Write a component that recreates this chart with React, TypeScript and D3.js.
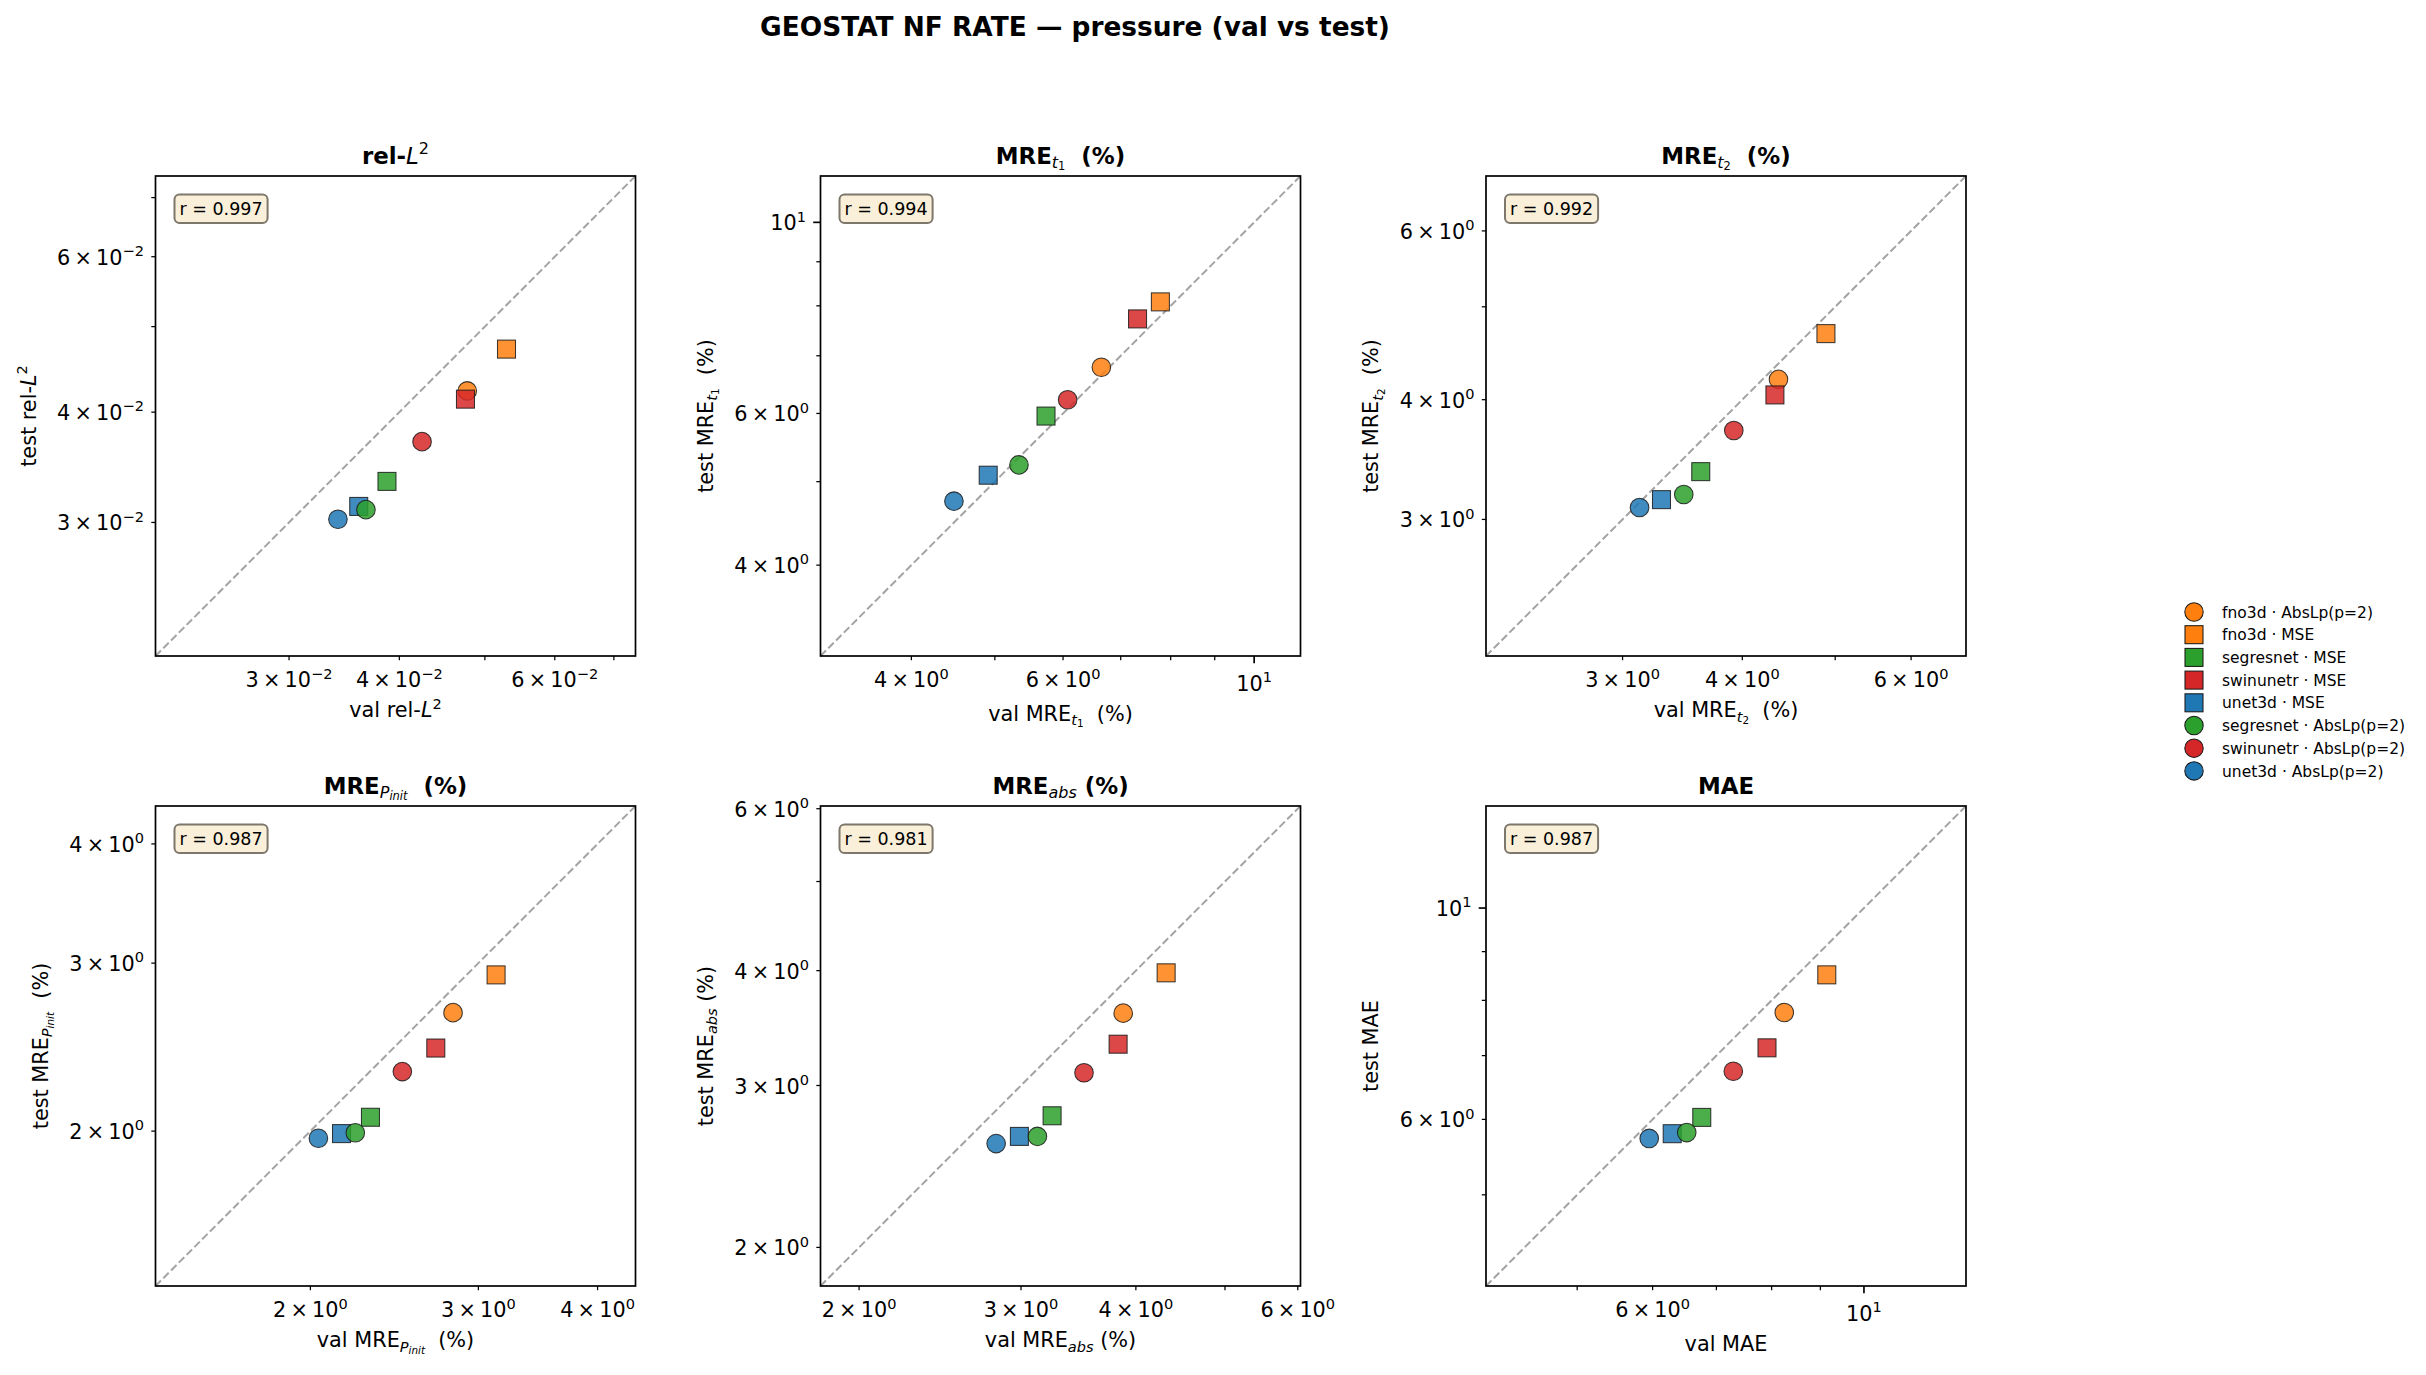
import React, { useEffect, useRef } from "react";
import * as d3 from "d3";

const W = 2426;
const H = 1375;
const FONT = "'DejaVu Sans', sans-serif";

// ---------- data ----------
const modelLabels = [
  "fno3d · AbsLp(p=2)",
  "fno3d · MSE",
  "segresnet · MSE",
  "swinunetr · MSE",
  "unet3d · MSE",
  "segresnet · AbsLp(p=2)",
  "swinunetr · AbsLp(p=2)",
  "unet3d · AbsLp(p=2)",
];
const modelColors = ["#ff7f0e", "#ff7f0e", "#2ca02c", "#d62728", "#1f77b4", "#2ca02c", "#d62728", "#1f77b4"];
const modelShapes = ["circle", "square", "square", "square", "square", "circle", "circle", "circle"];

const relL2Val = [0.04775, 0.0529, 0.03873, 0.04753, 0.03598, 0.03666, 0.04244, 0.03408];
const relL2Test = [0.04228, 0.04715, 0.03339, 0.04138, 0.03128, 0.03102, 0.03704, 0.03025];

const mreT1Val = [6.647, 7.783, 5.733, 7.322, 4.912, 5.333, 6.074, 4.482];
const mreT1Test = [6.788, 8.085, 5.958, 7.725, 5.087, 5.229, 6.223, 4.746];

const mreT2Val = [4.363, 4.89, 3.62, 4.326, 3.294, 3.475, 3.919, 3.125];
const mreT2Test = [4.2, 4.688, 3.365, 4.046, 3.146, 3.185, 3.715, 3.087];

const mrePinitVal = [2.822, 3.131, 2.312, 2.707, 2.156, 2.229, 2.497, 2.039];
const mrePinitTest = [2.662, 2.916, 2.068, 2.444, 1.988, 1.992, 2.309, 1.966];

const mreAbsVal = [3.875, 4.315, 3.243, 3.826, 2.988, 3.126, 3.513, 2.819];
const mreAbsTest = [3.596, 3.978, 2.781, 3.327, 2.641, 2.641, 3.097, 2.594];

const maeVal = [8.248, 9.141, 6.757, 7.911, 6.291, 6.516, 7.292, 5.951];
const maeTest = [7.768, 8.509, 6.029, 7.133, 5.796, 5.812, 6.74, 5.73];

const rValues = ["0.997", "0.994", "0.992", "0.987", "0.981", "0.987"];

type Seg = { t: string; s?: number; dy?: number; i?: boolean; m?: boolean };

const panelNames: Seg[][] = [
  [{ t: "rel-" }, { t: "L", i: true, m: true }, { t: "2", s: 0.7, dy: -0.42, m: true }],
  [{ t: "MRE" }, { t: "t", s: 0.7, dy: 0.2, i: true, m: true }, { t: "1", s: 0.5, dy: 0.3, m: true }, { t: "  (%)" }],
  [{ t: "MRE" }, { t: "t", s: 0.7, dy: 0.2, i: true, m: true }, { t: "2", s: 0.5, dy: 0.3, m: true }, { t: "  (%)" }],
  [{ t: "MRE" }, { t: "P", s: 0.7, dy: 0.2, i: true, m: true }, { t: "init", s: 0.5, dy: 0.3, i: true, m: true }, { t: "  (%)" }],
  [{ t: "MRE" }, { t: "abs", s: 0.7, dy: 0.2, i: true, m: true }, { t: " (%)" }],
  [{ t: "MAE" }],
];

const panelVals = [relL2Val, mreT1Val, mreT2Val, mrePinitVal, mreAbsVal, maeVal];
const panelTests = [relL2Test, mreT1Test, mreT2Test, mrePinitTest, mreAbsTest, maeTest];

// ---------- layout ----------
const axLefts = [155.5, 820.5, 1486];
const axTops = [176, 806];
const S = 480;
const FS_TICK = 20.8;
const FS_LABEL = 20.8;
const FS_TITLE = 22.9;
const MAJ = 7.3;
const MIN = 4.2;
const PAD = 7.3;

function rich(sel: any, segs: Seg[], fs: number, bold: boolean) {
  let cur = 0;
  segs.forEach((seg) => {
    const shift = (seg.dy ?? 0) * fs;
    const ts = sel
      .append("tspan")
      .text(seg.t)
      .attr("font-size", (seg.s ?? 1) * fs)
      .attr("dy", shift - cur)
      .attr("font-weight", bold && !seg.m ? "bold" : "normal")
      .attr("style", "white-space:pre");
    if (seg.i) ts.attr("font-style", "italic");
    cur = shift;
  });
}

function logTicks(lo: number, hi: number) {
  const numdec = Math.log10(hi / lo);
  const res: { v: number; k: number; e: number; major: boolean; labeled: boolean }[] = [];
  for (let e = Math.floor(Math.log10(lo)); e <= Math.ceil(Math.log10(hi)); e++) {
    for (let k = 1; k <= 9; k++) {
      const v = k * Math.pow(10, e);
      if (v < lo || v > hi) continue;
      const major = k === 1;
      const labeled = major || numdec < 0.4 || (numdec <= 1 && [2, 3, 4, 6].includes(k));
      res.push({ v, k, e, major, labeled });
    }
  }
  return res;
}

function tickSegs(k: number, e: number): Seg[] {
  const ex = e < 0 ? "\u2212" + Math.abs(e) : String(e);
  if (k === 1) return [{ t: "10" }, { t: ex, s: 0.7, dy: -0.42 }];
  return [{ t: k + "\u2009×\u200910" }, { t: ex, s: 0.7, dy: -0.42 }];
}

export default function App() {
  const ref = useRef<SVGSVGElement>(null);

  useEffect(() => {
    const svg = d3.select(ref.current);
    svg.selectAll("*").remove();
    svg.append("rect").attr("width", W).attr("height", H).attr("fill", "#ffffff");

    svg
      .append("text")
      .attr("x", 1075)
      .attr("y", 36)
      .attr("text-anchor", "middle")
      .attr("font-family", FONT)
      .attr("font-weight", "bold")
      .attr("font-size", 26.4)
      .text("GEOSTAT NF RATE — pressure (val vs test)");

    panelNames.forEach((name, idx) => {
      const col = idx % 3;
      const row = Math.floor(idx / 3);
      const x0 = axLefts[col];
      const y0 = axTops[row];
      const vals = panelVals[idx];
      const tests = panelTests[idx];
      const all = [...vals, ...tests];
      const lo = (d3.min(all) as number) * 0.7;
      const hi = (d3.max(all) as number) * 1.4;
      const xs = d3.scaleLog().domain([lo, hi]).range([x0, x0 + S]);
      const ys = d3.scaleLog().domain([lo, hi]).range([y0 + S, y0]);
      const g = svg.append("g").attr("font-family", FONT);

      // diagonal
      g.append("line")
        .attr("x1", xs(lo))
        .attr("y1", ys(lo))
        .attr("x2", xs(hi))
        .attr("y2", ys(hi))
        .attr("stroke", "#a3a3a3")
        .attr("stroke-width", 2)
        .attr("stroke-dasharray", "7.7,3.3");

      // points
      vals.forEach((v, i) => {
        const cx = xs(v);
        const cy = ys(tests[i]);
        const common = (s: any) =>
          s
            .attr("fill", modelColors[i])
            .attr("fill-opacity", 0.85)
            .attr("stroke", "#1a1a1a")
            .attr("stroke-opacity", 0.85)
            .attr("stroke-width", 1.05);
        if (modelShapes[i] === "circle") {
          common(g.append("circle").attr("cx", cx).attr("cy", cy).attr("r", 9.3));
        } else {
          const side = 18;
          common(g.append("rect").attr("x", cx - side / 2).attr("y", cy - side / 2).attr("width", side).attr("height", side));
        }
      });

      // spines
      g.append("rect")
        .attr("x", x0)
        .attr("y", y0)
        .attr("width", S)
        .attr("height", S)
        .attr("fill", "none")
        .attr("stroke", "#000")
        .attr("stroke-width", 1.7);

      const ticks = logTicks(lo, hi);
      const xLabG = g.append("g");
      const yLabG = g.append("g");
      ticks.forEach((tk) => {
        const len = tk.major ? MAJ : MIN;
        const sw = tk.major ? 1.67 : 1.25;
        const px = xs(tk.v);
        const py = ys(tk.v);
        g.append("line").attr("x1", px).attr("x2", px).attr("y1", y0 + S).attr("y2", y0 + S + len).attr("stroke", "#000").attr("stroke-width", sw);
        g.append("line").attr("x1", x0).attr("x2", x0 - len).attr("y1", py).attr("y2", py).attr("stroke", "#000").attr("stroke-width", sw);
        if (tk.labeled) {
          const segs = tickSegs(tk.k, tk.e);
          const tx = xLabG
            .append("text")
            .attr("x", px)
            .attr("y", y0 + S + len + PAD + 0.96 * FS_TICK)
            .attr("text-anchor", "middle")
            .attr("font-size", FS_TICK)
            .attr("fill", "#000");
          rich(tx, segs, FS_TICK, false);
          const ty = yLabG
            .append("text")
            .attr("x", x0 - len - PAD)
            .attr("y", py + 8)
            .attr("text-anchor", "end")
            .attr("font-size", FS_TICK)
            .attr("fill", "#000");
          rich(ty, segs, FS_TICK, false);
        }
      });

      // title
      const tt = g
        .append("text")
        .attr("x", x0 + S / 2)
        .attr("y", y0 - 12.5)
        .attr("text-anchor", "middle")
        .attr("font-size", FS_TITLE)
        .attr("fill", "#000");
      rich(tt, name, FS_TITLE, true);

      // x label
      const xb = (xLabG.node() as SVGGElement).getBBox();
      const xl = g
        .append("text")
        .attr("x", x0 + S / 2)
        .attr("y", xb.y + xb.height + 8.3 + 0.8 * FS_LABEL)
        .attr("text-anchor", "middle")
        .attr("font-size", FS_LABEL)
        .attr("fill", "#000");
      rich(xl, [{ t: "val " }, ...name], FS_LABEL, false);

      // y label
      const yb = (yLabG.node() as SVGGElement).getBBox();
      const ylx = yb.x - 8.3 - 13;
      const ylY = y0 + S / 2;
      const yl = g
        .append("text")
        .attr("x", ylx)
        .attr("y", ylY)
        .attr("transform", `rotate(-90,${ylx},${ylY})`)
        .attr("text-anchor", "middle")
        .attr("font-size", FS_LABEL)
        .attr("fill", "#000");
      rich(yl, [{ t: "test " }, ...name], FS_LABEL, false);

      // r box
      const rg = g.append("g");
      const rbox = rg.append("rect");
      const rt = rg
        .append("text")
        .attr("x", x0 + 24)
        .attr("y", y0 + 38.6)
        .attr("font-size", 17.5)
        .attr("fill", "#000")
        .text(`r = ${rValues[idx]}`);
      const rw = (rt.node() as SVGTextElement).getComputedTextLength();
      rbox
        .attr("x", x0 + 19)
        .attr("y", y0 + 18.5)
        .attr("width", rw + 10)
        .attr("height", 28.5)
        .attr("rx", 5)
        .attr("fill", "#faefd9")
        .attr("stroke", "#7d776c")
        .attr("stroke-width", 2);
    });

    // legend
    const lg = svg.append("g").attr("font-family", FONT);
    modelLabels.forEach((lab, i) => {
      const cy = 612 + i * 22.7;
      const cx = 2194;
      if (modelShapes[i] === "circle") {
        lg.append("circle").attr("cx", cx).attr("cy", cy).attr("r", 9.2).attr("fill", modelColors[i]).attr("stroke", "#1a1a1a").attr("stroke-width", 1.05);
      } else {
        lg.append("rect").attr("x", cx - 9).attr("y", cy - 9).attr("width", 18).attr("height", 18).attr("fill", modelColors[i]).attr("stroke", "#1a1a1a").attr("stroke-width", 1.05);
      }
      lg.append("text").attr("x", 2222).attr("y", cy + 5.6).attr("font-size", 15.5).attr("fill", "#000").text(lab);
    });
  }, []);

  return <svg ref={ref} width={W} height={H} style={{ position: "absolute", left: 0, top: 0 }} />;
}
